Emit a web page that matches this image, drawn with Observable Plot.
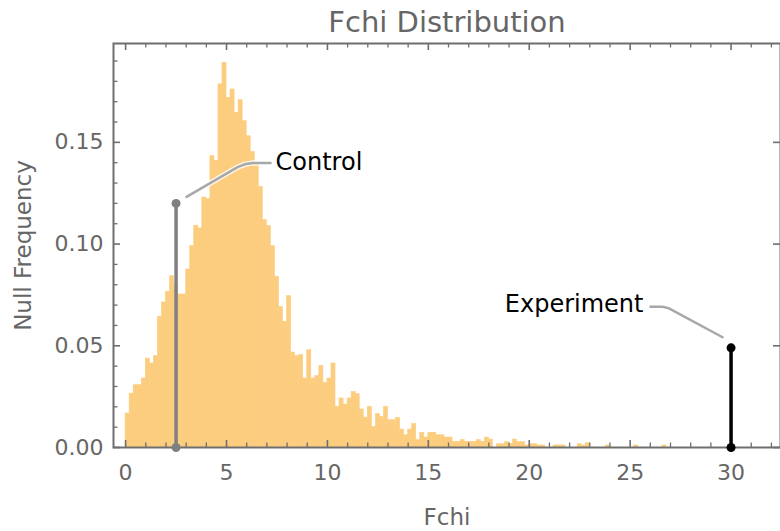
<!DOCTYPE html>
<html><head><meta charset="utf-8">
<script src="https://cdn.jsdelivr.net/npm/d3@7"></script>
<script src="https://cdn.jsdelivr.net/npm/@observablehq/plot@0.6"></script>
<style>body{margin:0;background:#fff} svg{display:block}</style>
</head><body><div id="chart"></div>
<script>
// Histogram of the null Fchi distribution: bins of width 0.2 starting at 0
const binWidth = 0.2;
const frequencies = [
  0.0167,0.0265,0.0306,0.0306,0.0339,0.0437,0.0413,0.0449,0.0642,0.0713,
  0.0765,0.0842,0.0800,0.0752,0.0752,0.0875,0.0990,0.1090,0.1077,0.1229,
  0.1221,0.1432,0.1409,0.1785,0.1891,0.1719,0.1760,0.1645,0.1707,0.1604,
  0.1530,0.1453,0.1399,0.1281,0.1118,0.1088,0.0990,0.0839,0.0691,0.0618,
  0.0744,0.0467,0.0449,0.0454,0.0339,0.0478,0.0339,0.0351,0.0401,0.0318,
  0.0339,0.0413,0.0200,0.0241,0.0211,0.0241,0.0273,0.0262,0.0187,0.0147,
  0.0200,0.0101,0.0164,0.0150,0.0200,0.0134,0.0134,0.0146,0.0088,0.0060,
  0.0088,0.0115,0.0036,0.0072,0.0049,0.0072,0.0072,0.0060,0.0060,0.0049,
  0.0049,0.0028,0.0028,0.0036,0.0028,0.0028,0.0028,0.0036,0.0028,0.0049,
  0.0039,0.0000,0.0016,0.0016,0.0026,0.0018,0.0039,0.0026,0.0026,0.0010,
  0.0016,0.0016,0.0010,0.0010,0.0000,0.0000,0.0010,0.0010,0.0010,0.0000,
  0.0000,0.0000,0.0016,0.0010,0.0022,0.0000,0.0000,0.0000,0.0000,0.0010,
  0.0000,0.0000,0.0000,0.0000,0.0000,0.0000,0.0010,0.0000,0.0000,0.0000,
  0.0000,0.0000,0.0000,0.0010
];

const xDomain = [-0.6, 32.45];
const yDomain = [0, 0.1986];
const xMajorTicks = [0, 5, 10, 15, 20, 25, 30];
const xMinorTicks = [1,2,3,4,6,7,8,9,11,12,13,14,16,17,18,19,21,22,23,24,26,27,28,29,31,32];
const yMajorTicks = [0, 0.05, 0.10, 0.15];
const yMinorTicks = [0.01,0.02,0.03,0.04,0.06,0.07,0.08,0.09,0.11,0.12,0.13,0.14,0.16,0.17,0.18,0.19];

// Observed statistics
const controlMarker = [{x: 2.5, y: 0.12}];
const experimentMarker = [{x: 30, y: 0.049}];

// Callout leader lines and labels
const controlCallout = [
  {x: 3.02, y: 0.1232}, {x: 5.55, y: 0.1378}, {x: 5.9, y: 0.1392},
  {x: 6.3, y: 0.1399}, {x: 7.18, y: 0.1399}
];
const experimentCallout = [
  {x: 26.01, y: 0.0692}, {x: 26.6, y: 0.0692}, {x: 26.9, y: 0.0685}, {x: 29.58, y: 0.0542}
];
const controlLabel = [{x: 7.43, y: 0.1403, text: "Control"}];
const experimentLabel = [{x: 25.66, y: 0.0705, text: "Experiment"}];

const barColor = "#fccd7e";
const axisGray = "#6e6e6e";
const textGray = "#666666";
const fmt = d3.format(".2f");

const xTickBottom = (ticks, len, w) => Plot.ruleX(ticks, {x: d => d, y1: yDomain[0], y2: yDomain[0], insetTop: -len, stroke: axisGray, strokeWidth: w});
const xTickTop = (ticks, len, w) => Plot.ruleX(ticks, {x: d => d, y1: yDomain[1], y2: yDomain[1], insetBottom: -len, stroke: axisGray, strokeWidth: w});
const yTickLeft = (ticks, len, w) => Plot.ruleY(ticks, {y: d => d, x1: xDomain[0], x2: xDomain[0], insetRight: -len, stroke: axisGray, strokeWidth: w});
const yTickRight = (ticks, len, w) => Plot.ruleY(ticks, {y: d => d, x1: xDomain[1], x2: xDomain[1], insetLeft: -len, stroke: axisGray, strokeWidth: w});

const chart = Plot.plot({
  width: 780,
  height: 531,
  marginTop: 43,
  marginBottom: 84,
  marginLeft: 113,
  marginRight: 0,
  style: {fontFamily: "'DejaVu Sans', sans-serif", background: "white"},
  x: {domain: xDomain, label: null},
  y: {domain: yDomain, label: null},
  marks: [
    Plot.rectY(frequencies, {
      x1: (d, i) => i * binWidth,
      x2: (d, i) => (i + 1) * binWidth,
      y: d => d,
      fill: barColor,
      stroke: barColor,
      strokeWidth: 0.6
    }),
    Plot.frame({stroke: axisGray, strokeWidth: 2}),
    // frame ticks (inward)
    xTickBottom(xMajorTicks, 7, 1.6),
    xTickBottom(xMinorTicks, 4.5, 1.3),
    xTickTop(xMajorTicks, 7, 1.6),
    xTickTop(xMinorTicks, 4.5, 1.3),
    yTickLeft(yMajorTicks, 7, 1.6),
    yTickLeft(yMinorTicks, 4.5, 1.3),
    yTickRight(yMajorTicks, 7, 1.6),
    // tick labels
    Plot.axisX(xMajorTicks, {anchor: "bottom", tickSize: 0, tickPadding: 17, fontSize: 22, fill: textGray, label: null}),
    Plot.axisY(yMajorTicks, {anchor: "left", tickSize: 0, tickPadding: 10, fontSize: 22, fill: textGray, tickFormat: fmt, label: null}),
    // callouts
    Plot.line(controlCallout, {x: "x", y: "y", stroke: "white", strokeWidth: 5.5, strokeOpacity: 0.8}),
    Plot.line(controlCallout, {x: "x", y: "y", stroke: "#a8a8a8", strokeWidth: 2.5}),
    Plot.line(experimentCallout, {x: "x", y: "y", stroke: "white", strokeWidth: 5.5, strokeOpacity: 0.8}),
    Plot.line(experimentCallout, {x: "x", y: "y", stroke: "#a8a8a8", strokeWidth: 2.5}),
    // markers
    Plot.ruleX(controlMarker, {x: "x", y1: 0, y2: "y", stroke: "#808080", strokeWidth: 3.5}),
    Plot.dot(controlMarker, {x: "x", y: "y", fill: "#808080", r: 4.5}),
    Plot.dot(controlMarker, {x: "x", y: 0, fill: "#808080", r: 4.5}),
    Plot.ruleX(experimentMarker, {x: "x", y1: 0, y2: "y", stroke: "black", strokeWidth: 3.5}),
    Plot.dot(experimentMarker, {x: "x", y: "y", fill: "black", r: 4.5}),
    Plot.dot(experimentMarker, {x: "x", y: 0, fill: "black", r: 4.5}),
    Plot.text(controlLabel, {x: "x", y: "y", text: "text", textAnchor: "start", lineAnchor: "middle", fontSize: 24, fill: "black"}),
    Plot.text(experimentLabel, {x: "x", y: "y", text: "text", textAnchor: "end", lineAnchor: "middle", fontSize: 24, fill: "black"}),
    // titles
    Plot.text(["Fchi Distribution"], {frameAnchor: "top", dy: -21, lineAnchor: "middle", fontSize: 29, fill: textGray}),
    Plot.text(["Null Frequency"], {frameAnchor: "left", dx: -90, rotate: -90, textAnchor: "middle", lineAnchor: "middle", fontSize: 23, fill: textGray}),
    Plot.text(["Fchi"], {frameAnchor: "bottom", dy: 70, lineAnchor: "middle", fontSize: 23, fill: textGray})
  ]
});
document.getElementById("chart").append(chart);
</script>
</body></html>
